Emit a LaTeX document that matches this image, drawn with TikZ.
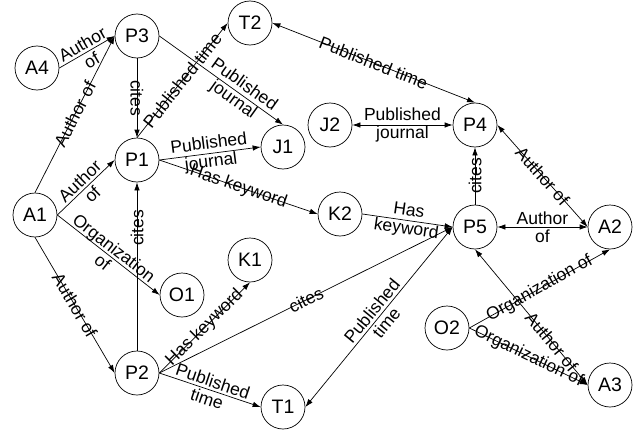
\documentclass[tikz,border=0pt]{standalone}
\usepackage{fontspec}
\setmainfont{Liberation Sans}
\usetikzlibrary{arrows.meta}

\begin{document}
\begin{tikzpicture}
  [x=1pt,y=-1pt,line width=.7pt,>={Latex[length=8pt,width=5.5pt]},
   ent/.style={circle,draw,minimum size=44pt,inner sep=0pt,font=\fontsize{19.5}{21}\selectfont},
   rel/.style={sloped,align=center,inner sep=0pt,font=\fontsize{17.5}{18.5}\selectfont}]
  \useasboundingbox (0,0) rectangle (640,431);

  \node[ent] (A4) at (37,68)   {A4};
  \node[ent] (P3) at (137,36)  {P3};
  \node[ent] (T2) at (250,23)  {T2};
  \node[ent] (J1) at (283,147) {J1};
  \node[ent] (P1) at (137,160) {P1};
  \node[ent] (A1) at (35,215)  {A1};
  \node[ent] (O1) at (182,295) {O1};
  \node[ent] (K1) at (250,260) {K1};
  \node[ent] (P2) at (137,373) {P2};
  \node[ent] (T1) at (283,407) {T1};
  \node[ent] (K2) at (340,214) {K2};
  \node[ent] (J2) at (330,125) {J2};
  \node[ent] (P4) at (475,125) {P4};
  \node[ent] (P5) at (475,227) {P5};
  \node[ent] (A2) at (610,227) {A2};
  \node[ent] (O2) at (447,328) {O2};
  \node[ent] (A3) at (610,385) {A3};

  % one-way relations
  \foreach \from/\to/\lbl/\p in {A4.east/P3.west/{Author\\of}/.5,
      A1.north/P3.west/{Author of}/.5, A1.east/P1.west/{Author\\of}/.5,
      A1.east/O1.west/{Organization\\of}/.5, A1.south/P2.west/{Author of}/.5,
      P3.south/P1.north/cites/.5, P2.north/P1.south/cites/.73,
      P1.north/T2.west/{Published time}/.5, P3.east/J1.north/{Published\\journal}/.64,
      P1.east/J1.west/{Published\\journal}/.5, P1.east/K2.west/{Has keyword}/.5,
      P2.east/K1.south/{Has keyword}/.5, P2.east/T1.west/{Published\\time}/.5,
      P2.east/P5.west/cites/.5, K2.east/P5.west/{Has\\keyword}/.5,
      P5.north/P4.south/cites/.5, O2.east/A2.south/{Organization of}/.5,
      O2.east/A3.west/{Organization of}/.5}
    \draw[->] (\from) -- node[rel,pos=\p] {\lbl} (\to);

  % two-way relations
  \foreach \from/\to/\lbl/\p in {T2.east/P4.north/{Published time}/.5,
      J2.east/P4.west/{Published\\journal}/.5, P4.east/A2.west/{Author of}/.5,
      P5.east/A2.west/{Author\\of}/.5, P5.west/T1.east/{Published\\time}/.5,
      P5.south/A3.west/{Author of}/.68}
    \draw[<->] (\from) -- node[rel,pos=\p] {\lbl} (\to);

\end{tikzpicture}
\end{document}
